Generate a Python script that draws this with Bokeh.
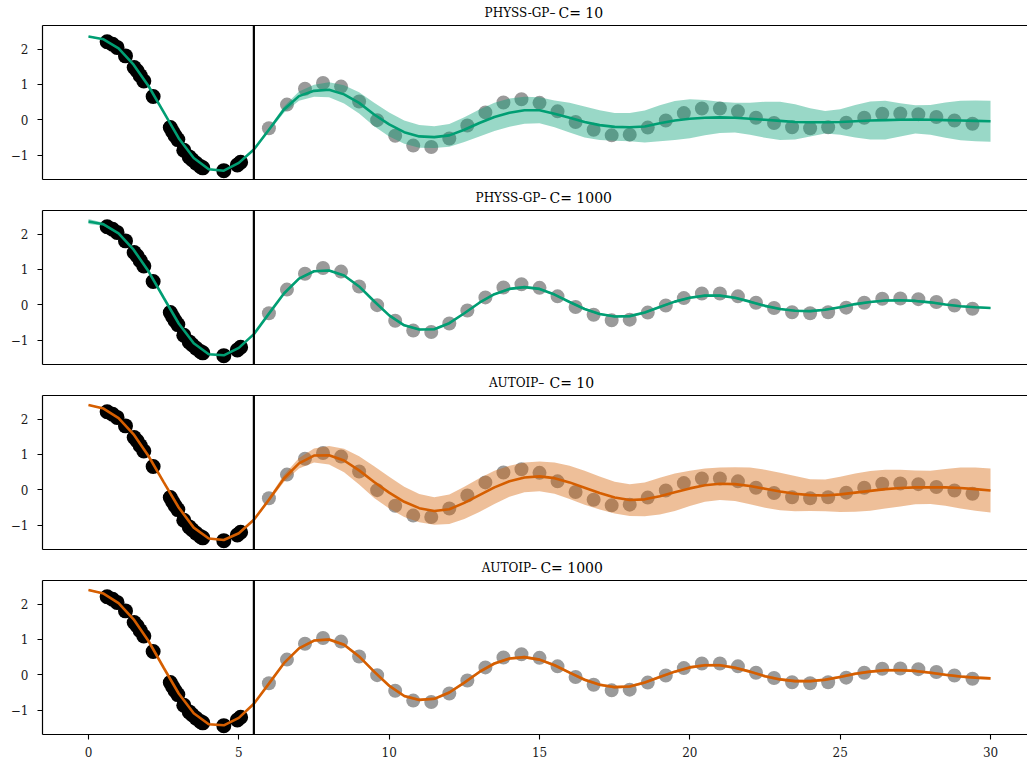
from bokeh.plotting import figure
from bokeh.layouts import column
from bokeh.models import Range1d, LinearAxis, FixedTicker, Span
from bokeh.core.properties import value
from bokeh.embed import file_html
from bokeh.resources import INLINE

# ---------------- data ----------------
train_x = [0.62, 0.80, 0.95, 1.23, 1.52, 1.62, 1.72, 1.84, 2.15, 2.72, 2.80, 2.88,
           2.97, 3.17, 3.35, 3.45, 3.58, 3.72, 3.80, 4.50, 4.95, 5.06]
train_y = [2.21, 2.14, 2.05, 1.81, 1.48, 1.38, 1.25, 1.10, 0.66, -0.22, -0.34, -0.45,
           -0.56, -0.86, -1.05, -1.13, -1.23, -1.32, -1.36, -1.44, -1.28, -1.20]

test_x = [6.0, 6.6, 7.2, 7.8, 8.4, 9.0, 9.6, 10.2, 10.8, 11.4, 12.0, 12.6, 13.2, 13.8,
          14.4, 15.0, 15.6, 16.2, 16.8, 17.4, 18.0, 18.6, 19.2, 19.8, 20.4, 21.0, 21.6,
          22.2, 22.8, 23.4, 24.0, 24.6, 25.2, 25.8, 26.4, 27.0, 27.6, 28.2, 28.8, 29.4]
test_y = [-0.24, 0.43, 0.88, 1.04, 0.94, 0.52, -0.01, -0.45, -0.73, -0.77, -0.53, -0.16,
          0.21, 0.49, 0.58, 0.48, 0.24, -0.06, -0.28, -0.44, -0.42, -0.22, -0.02, 0.19,
          0.32, 0.32, 0.24, 0.06, -0.09, -0.21, -0.24, -0.21, -0.08, 0.06, 0.17, 0.18,
          0.16, 0.08, -0.02, -0.11]

curve_x = [0.0, 0.5, 1.0, 1.5, 2.0, 2.5, 3.0, 3.5, 4.0, 4.5, 5.0, 5.5, 6.0, 6.5, 7.0,
           7.5, 8.0, 8.5, 9.0, 9.5, 10.0, 10.5, 11.0, 11.5, 12.0, 12.5, 13.0, 13.5, 14.0,
           14.5, 15.0, 15.5, 16.0, 16.5, 17.0, 17.5, 18.0, 18.5, 19.0, 19.5, 20.0, 20.5,
           21.0, 21.5, 22.0, 22.5, 23.0, 23.5, 24.0, 24.5, 25.0, 25.5, 26.0, 26.5, 27.0,
           27.5, 28.0, 28.5, 29.0, 29.5, 30.0]

mean_physs_c10 = [2.36, 2.28, 2.02, 1.56, 0.95, 0.22, -0.52, -1.08, -1.40, -1.44, -1.22, -0.84,
                  -0.28, 0.29, 0.67, 0.82, 0.85, 0.72, 0.48, 0.15, -0.13, -0.35, -0.47, -0.49,
                  -0.44, -0.28, -0.09, 0.08, 0.20, 0.27, 0.27, 0.17, 0.06, -0.06, -0.15, -0.20,
                  -0.21, -0.19, -0.10, -0.02, 0.03, 0.06, 0.07, 0.06, 0.03, 0.00, -0.03, -0.06,
                  -0.07, -0.07, -0.06, -0.04, -0.02, -0.01, 0.00, 0.01, 0.00, -0.01, -0.02,
                  -0.03, -0.04]
hw_physs_c10 = [0.02, 0.02, 0.02, 0.02, 0.02, 0.02, 0.02, 0.02, 0.02, 0.02, 0.02, 0.03,
                0.05, 0.09, 0.13, 0.17, 0.21, 0.26, 0.30, 0.33, 0.34, 0.33, 0.32, 0.31,
                0.32, 0.35, 0.38, 0.40, 0.40, 0.38, 0.37, 0.38, 0.42, 0.44, 0.42, 0.39,
                0.40, 0.45, 0.51, 0.55, 0.55, 0.50, 0.44, 0.42, 0.45, 0.51, 0.54, 0.50,
                0.40, 0.32, 0.36, 0.46, 0.54, 0.55, 0.47, 0.40, 0.42, 0.50, 0.56, 0.58, 0.58]

mean_physs_c1000 = [2.36, 2.28, 2.02, 1.56, 0.94, 0.20, -0.53, -1.09, -1.40, -1.43, -1.22, -0.83,
                    -0.25, 0.32, 0.74, 0.95, 0.97, 0.83, 0.52, 0.10, -0.30, -0.58, -0.70, -0.69,
                    -0.52, -0.24, 0.06, 0.30, 0.45, 0.50, 0.45, 0.29, 0.08, -0.12, -0.26, -0.33,
                    -0.32, -0.22, -0.06, 0.09, 0.20, 0.26, 0.26, 0.20, 0.09, -0.03, -0.12, -0.17,
                    -0.18, -0.14, -0.07, 0.02, 0.08, 0.12, 0.13, 0.11, 0.07, 0.01, -0.04, -0.07,
                    -0.09]
hw_physs_c1000 = [0.07, 0.04, 0.02, 0.02, 0.02, 0.02, 0.02, 0.02, 0.02, 0.02, 0.02, 0.02,
                  0.03, 0.03, 0.03, 0.03, 0.03, 0.03, 0.03, 0.03, 0.03, 0.03, 0.03, 0.03,
                  0.03, 0.03, 0.03, 0.03, 0.03, 0.03, 0.03, 0.03, 0.03, 0.03, 0.03, 0.03,
                  0.03, 0.03, 0.03, 0.03, 0.03, 0.03, 0.03, 0.03, 0.03, 0.03, 0.03, 0.03,
                  0.03, 0.03, 0.03, 0.03, 0.03, 0.03, 0.03, 0.03, 0.03, 0.03, 0.03, 0.03, 0.03]

mean_autoip_c10 = [2.40, 2.30, 2.03, 1.57, 0.95, 0.22, -0.50, -1.07, -1.38, -1.42, -1.23, -0.85,
                   -0.28, 0.32, 0.75, 0.97, 0.98, 0.83, 0.55, 0.22, -0.08, -0.34, -0.52, -0.60,
                   -0.55, -0.37, -0.15, 0.07, 0.24, 0.35, 0.38, 0.33, 0.21, 0.06, -0.09, -0.22,
                   -0.29, -0.27, -0.18, -0.07, 0.04, 0.13, 0.17, 0.16, 0.11, 0.03, -0.05, -0.11,
                   -0.15, -0.16, -0.13, -0.08, -0.03, 0.02, 0.05, 0.07, 0.07, 0.07, 0.05, 0.02,
                   -0.02]
hw_autoip_c10 = [0.02, 0.02, 0.02, 0.02, 0.02, 0.02, 0.02, 0.02, 0.02, 0.02, 0.02, 0.03,
                 0.06, 0.10, 0.15, 0.20, 0.26, 0.33, 0.40, 0.45, 0.45, 0.43, 0.40, 0.39,
                 0.42, 0.46, 0.48, 0.47, 0.44, 0.42, 0.42, 0.44, 0.47, 0.48, 0.47, 0.45,
                 0.45, 0.48, 0.52, 0.53, 0.50, 0.47, 0.46, 0.48, 0.52, 0.54, 0.53, 0.50,
                 0.45, 0.45, 0.50, 0.54, 0.56, 0.55, 0.52, 0.48, 0.47, 0.52, 0.58, 0.61, 0.62]

mean_autoip_c1000 = [2.40, 2.30, 2.03, 1.57, 0.95, 0.20, -0.53, -1.09, -1.40, -1.43, -1.22, -0.82,
                     -0.25, 0.33, 0.75, 0.97, 1.00, 0.85, 0.52, 0.09, -0.31, -0.60, -0.71, -0.68,
                     -0.50, -0.22, 0.08, 0.32, 0.46, 0.50, 0.43, 0.27, 0.06, -0.14, -0.28, -0.35,
                     -0.33, -0.22, -0.06, 0.09, 0.21, 0.27, 0.27, 0.20, 0.09, -0.04, -0.13, -0.18,
                     -0.18, -0.14, -0.06, 0.03, 0.09, 0.13, 0.13, 0.11, 0.06, 0.00, -0.05, -0.08,
                     -0.10]
hw_autoip_c1000 = [0.03, 0.02, 0.02, 0.02, 0.02, 0.02, 0.02, 0.02, 0.02, 0.02, 0.02, 0.02,
                   0.04, 0.04, 0.04, 0.04, 0.04, 0.04, 0.04, 0.04, 0.04, 0.04, 0.04, 0.04,
                   0.04, 0.04, 0.04, 0.04, 0.04, 0.04, 0.04, 0.04, 0.04, 0.04, 0.04, 0.04,
                   0.04, 0.04, 0.04, 0.04, 0.04, 0.04, 0.04, 0.04, 0.04, 0.04, 0.04, 0.04,
                   0.04, 0.04, 0.04, 0.04, 0.04, 0.04, 0.04, 0.04, 0.04, 0.04, 0.04, 0.04, 0.04]

method_names = ["PHYSS-GP–", "PHYSS-GP–", "AUTOIP–", "AUTOIP–"]
c_labels = ["C= 10", "C= 1000", "C= 10", "C= 1000"]
x_ticks = [0, 5, 10, 15, 20, 25, 30]
y_ticks = [-1, 0, 1, 2]
boundary_x = 5.5

# ---------------- styling / layout ----------------
GREEN = "#009E73"
ORANGE = "#D55E00"
GREY = "#9a9a9a"
FONT = "DejaVu Serif"

means = [mean_physs_c10, mean_physs_c1000, mean_autoip_c10, mean_autoip_c1000]
hws = [hw_physs_c10, hw_physs_c1000, hw_autoip_c10, hw_autoip_c1000]
colors = [GREEN, GREEN, ORANGE, ORANGE]
dash_end = [15.53, 15.23, 15.16, 14.92]
c_start = [15.63, 15.33, 15.33, 15.03]
title_heights = [24, 29, 29, 29]
bottoms = [1, 1, 1, 26]

X0, X1 = -1.53, 31.23
Y0, Y1 = -1.69, 2.67
FRAME_H = 154
WIDTH = 1027
LEFT = 42


def blank_axis():
    ax = LinearAxis(ticker=FixedTicker(ticks=[]))
    ax.major_label_text_font_size = "0px"
    ax.major_tick_out = 0
    ax.major_tick_in = 0
    ax.minor_tick_out = 0
    ax.minor_tick_in = 0
    ax.major_label_standoff = 0
    ax.axis_line_color = "black"
    ax.axis_line_width = 1.2
    return ax


shared_x = Range1d(X0, X1)
items = []
for i in range(4):
    # ---- title strip ----
    th = title_heights[i]
    t = figure(width=WIDTH, height=th, x_range=shared_x, y_range=Range1d(0, th),
               output_backend="svg", toolbar_location=None,
               x_axis_location=None, y_axis_location=None,
               min_border_left=LEFT, min_border_right=0,
               min_border_top=0, min_border_bottom=0)
    t.grid.visible = False
    t.outline_line_color = None
    t.text(x=[dash_end[i]], y=[12], text=[method_names[i]],
           text_align="right", text_baseline="alphabetic",
           text_font=value(FONT), text_font_size="12px", text_color="black")
    t.text(x=[c_start[i]], y=[12], text=[c_labels[i]],
           text_align="left", text_baseline="alphabetic",
           text_font=value(FONT), text_font_size="14px", text_color="black")
    items.append(t)

    # ---- panel ----
    h = 1 + FRAME_H + bottoms[i]
    p = figure(width=WIDTH, height=h,
               x_range=shared_x, y_range=Range1d(Y0, Y1),
               output_backend="svg", toolbar_location=None,
               x_axis_location=None, y_axis_location=None,
               min_border_left=LEFT, min_border_right=0,
               min_border_top=1, min_border_bottom=bottoms[i])
    p.grid.visible = False
    p.outline_line_color = None
    p.background_fill_color = "white"
    p.border_fill_color = "white"

    yax = LinearAxis(ticker=FixedTicker(ticks=y_ticks))
    yax.major_label_overrides = {-1: "−1", 0: "0", 1: "1", 2: "2"}
    yax.major_label_text_font = FONT
    yax.major_label_text_font_size = "12px"
    yax.major_label_text_color = "#1a1a1a"
    yax.major_tick_out = 5
    yax.major_tick_in = 0
    yax.minor_tick_out = 0
    yax.minor_tick_in = 0
    yax.major_label_standoff = 9
    yax.axis_line_color = "black"
    yax.axis_line_width = 1.2
    yax.major_tick_line_width = 1.1
    p.add_layout(yax, "left")

    if i == 3:
        xax = LinearAxis(ticker=FixedTicker(ticks=x_ticks))
        xax.major_label_text_font = FONT
        xax.major_label_text_font_size = "12px"
        xax.major_label_text_color = "#1a1a1a"
        xax.major_tick_out = 5
        xax.major_tick_in = 0
        xax.minor_tick_out = 0
        xax.minor_tick_in = 0
        xax.major_label_standoff = 7
        xax.axis_line_color = "black"
        xax.axis_line_width = 1.2
        xax.major_tick_line_width = 1.1
    else:
        xax = blank_axis()
    p.add_layout(xax, "below")
    p.add_layout(blank_axis(), "above")

    p.scatter(test_x, test_y, size=14, fill_color=GREY, line_color=None)
    p.scatter(train_x, train_y, size=15, fill_color="black", line_color=None)
    upper = [m + d for m, d in zip(means[i], hws[i])]
    lower = [m - d for m, d in zip(means[i], hws[i])]
    p.varea(x=curve_x, y1=lower, y2=upper, fill_color=colors[i], fill_alpha=0.4)
    p.line(curve_x, means[i], line_color=colors[i], line_width=2.6)
    p.add_layout(Span(location=boundary_x, dimension="height",
                      line_color="black", line_width=2.2))
    items.append(p)

layout = column(*items, spacing=0)
open("out.html", "w").write(file_html(layout, INLINE))
